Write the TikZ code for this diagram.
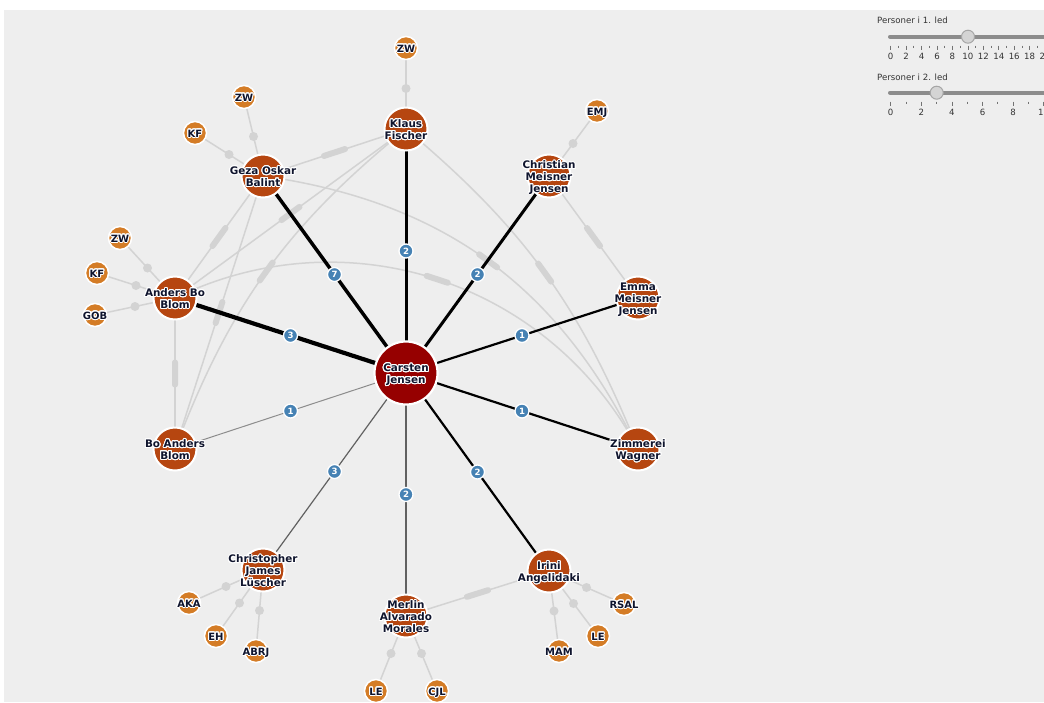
\documentclass[tikz,border=0pt]{standalone}
\usepackage{fontspec}
\setmainfont{DejaVu Sans}
\usepackage{contour}
\contourlength{1pt}
\contournumber{20}

\definecolor{bggrey}{RGB}{238,238,238}
\definecolor{linkgrey}{RGB}{211,211,211}
\definecolor{centre}{RGB}{150,0,0}
\definecolor{rust}{RGB}{182,70,16}
\definecolor{amber}{RGB}{212,124,38}
\definecolor{badge}{RGB}{70,130,180}
\definecolor{ink}{RGB}{15,20,45}

\pgfdeclarelayer{links}
\pgfsetlayers{links,main}

\newcommand{\halo}[1]{\contour{white}{\begin{tabular}{@{}c@{}}#1\end{tabular}}}

\begin{document}
\begin{tikzpicture}[x=1pt, y=-1pt,
	hub/.style={circle, fill=centre, draw=white, line width=2.2pt, minimum size=63pt, inner sep=0pt},
	pers/.style={circle, fill=rust, draw=white, line width=2pt, minimum size=43pt, inner sep=0pt},
	ext/.style={circle, fill=amber, draw=white, line width=1.5pt, minimum size=23pt, inner sep=0pt},
	nm/.style={font=\fontsize{10.4}{11.6}\selectfont\bfseries, text=ink, inner sep=0pt, yshift=-2.6pt},
	tag/.style={font=\fontsize{10}{11}\selectfont\bfseries, text=ink, inner sep=0pt, yshift=-2.4pt},
	num/.style={circle, fill=badge, draw=white, line width=1.3pt, minimum size=14pt, inner sep=0pt, text=white, font=\fontsize{8.6}{9}\selectfont\bfseries},
	link/.style={draw=linkgrey, line width=1.5pt},
	tie/.style={draw=black, line width=#1},
	bar/.style={sloped, fill=linkgrey, rounded corners=2.8pt, minimum width=28pt, minimum height=6pt, inner sep=0pt},
	knot/.style={circle, fill=linkgrey, minimum size=9pt, inner sep=0pt},
	slabel/.style={font=\fontsize{8.6}{9.5}\selectfont, text=black!80, inner sep=0pt},
	track/.style={draw=black!45, line width=4pt, line cap=round},
	tickmark/.style={draw=black!55, line width=0.8pt},
	thumb/.style={circle, fill=black!17, draw=black!35, line width=1pt, minimum size=13pt, inner sep=0pt}]
\useasboundingbox (0,0) rectangle (1044,702);

% people in 1st and 2nd degree
\node[hub, label={[nm]center:\halo{Carsten\\Jensen}}] (cj) at (406,373) {};
\node[pers, label={[nm]center:\halo{Klaus\\Fischer}}] (kf) at (406,129) {};
\node[pers, label={[nm]center:\halo{Geza Oskar\\Balint}}] (gb) at (263,176) {};
\node[pers, label={[nm]center:\halo{Christian\\Meisner\\Jensen}}] (cm) at (549,176) {};
\node[pers, label={[nm]center:\halo{Anders Bo\\Blom}}] (ab) at (175,298) {};
\node[pers, label={[nm]center:\halo{Emma\\Meisner\\Jensen}}] (em) at (638,298) {};
\node[pers, label={[nm]center:\halo{Bo Anders\\Blom}}] (ba) at (175,449) {};
\node[pers, label={[nm]center:\halo{Zimmerei\\Wagner}}] (zw) at (638,449) {};
\node[pers, label={[nm]center:\halo{Christopher\\James\\Lüscher}}] (cl) at (263,570) {};
\node[pers, label={[nm]center:\halo{Merlin\\Alvarado\\Morales}}] (ma) at (406,616) {};
\node[pers, label={[nm]center:\halo{Irini\\Angelidaki}}] (ia) at (549,571) {};

\node[ext, label={[tag]center:\halo{ZW}}] (kf-zw) at (406,48) {};
\node[ext, label={[tag]center:\halo{ZW}}] (gb-zw) at (244,97) {};
\node[ext, label={[tag]center:\halo{KF}}] (gb-kf) at (195,133) {};
\node[ext, label={[tag]center:\halo{EMJ}}] (cm-emj) at (597,111) {};
\node[ext, label={[tag]center:\halo{ZW}}] (ab-zw) at (120,238) {};
\node[ext, label={[tag]center:\halo{KF}}] (ab-kf) at (97,273) {};
\node[ext, label={[tag]center:\halo{GOB}}] (ab-gob) at (95,315) {};
\node[ext, label={[tag]center:\halo{AKA}}] (cl-aka) at (189,603) {};
\node[ext, label={[tag]center:\halo{EH}}] (cl-eh) at (216,636) {};
\node[ext, label={[tag]center:\halo{ABRJ}}] (cl-abrj) at (256,651) {};
\node[ext, label={[tag]center:\halo{LE}}] (ma-le) at (376,691) {};
\node[ext, label={[tag]center:\halo{CJL}}] (ma-cjl) at (437,691) {};
\node[ext, label={[tag]center:\halo{RSAL}}] (ia-rsal) at (624,604) {};
\node[ext, label={[tag]center:\halo{LE}}] (ia-le) at (598,636) {};
\node[ext, label={[tag]center:\halo{MAM}}] (ia-mam) at (559,651) {};

\begin{pgfonlayer}{links}
	\fill[white] (0,0) rectangle (1044,702);
	\fill[bggrey] (4,10) rectangle (1044,702);

	% 2nd degree
	\path[link] (kf.center) edge node[knot] {} (kf-zw.center);
	\path[link] (gb.center) edge node[knot] {} (gb-zw.center);
	\path[link] (gb.center) edge node[knot] {} (gb-kf.center);
	\path[link] (cm.center) edge node[knot] {} (cm-emj.center);
	\path[link] (ab.center) edge node[knot] {} (ab-zw.center);
	\path[link] (ab.center) edge node[knot] {} (ab-kf.center);
	\path[link] (ab.center) edge node[knot] {} (ab-gob.center);
	\path[link] (cl.center) edge node[knot] {} (cl-aka.center);
	\path[link] (cl.center) edge node[knot] {} (cl-eh.center);
	\path[link] (cl.center) edge node[knot] {} (cl-abrj.center);
	\path[link] (ma.center) edge node[knot] {} (ma-le.center);
	\path[link] (ma.center) edge node[knot] {} (ma-cjl.center);
	\path[link] (ia.center) edge node[knot] {} (ia-rsal.center);
	\path[link] (ia.center) edge node[knot] {} (ia-le.center);
	\path[link] (ia.center) edge node[knot] {} (ia-mam.center);

	% among 1st degree
	\path[link] (kf.center) edge node[bar] {} (gb.center);
	\path[link] (kf.center) edge node[bar] {} (ab.center);
	\path[link] (kf.center) edge[bend right=15] node[bar] {} (ba.center);
	\path[link] (kf.center) edge[bend left=14] node[bar] {} (zw.center);
	\path[link] (gb.center) edge node[bar] {} (ab.center);
	\path[link] (gb.center) edge node[bar] {} (ba.center);
	\path[link] (gb.center) edge[bend left=28] node[bar] {} (zw.center);
	\path[link] (ab.center) edge node[bar] {} (ba.center);
	\path[link] (ab.center) edge[bend left=44] node[bar] {} (zw.center);
	\path[link] (cm.center) edge node[bar] {} (em.center);
	\path[link] (ma.center) edge node[bar] {} (ia.center);

	% 1st degree
	\path[tie=3pt] (cj.center) edge node[num] {2} (kf.center);
	\path[tie=3.5pt] (cj.center) edge node[num] {7} (gb.center);
	\path[tie=3pt] (cj.center) edge node[num] {2} (cm.center);
	\path[tie=4.2pt] (cj.center) edge node[num] {3} (ab.center);
	\path[tie=2.2pt] (cj.center) edge node[num] {1} (em.center);
	\path[tie=1pt, draw=black!45] (cj.center) edge node[num] {1} (ba.center);
	\path[tie=2.2pt] (cj.center) edge node[num] {1} (zw.center);
	\path[tie=1.2pt, draw=black!62] (cj.center) edge node[num] {3} (cl.center);
	\path[tie=1.8pt, draw=black!62] (cj.center) edge node[num] {2} (ma.center);
	\path[tie=2.2pt] (cj.center) edge node[num] {2} (ia.center);
\end{pgfonlayer}

% sliders
\node[slabel, anchor=base west] (p1) at (877,23.3) {Personer i 1. led};
\draw[track] (890,36.7) -- (1050,36.7);
\foreach \i in {0,2,...,20} {
	\draw[tickmark] (890.7+7.72*\i,45.5) -- ++(0,4.5);
	\node[slabel] (p1-\i) at (890.7+7.72*\i,56.5) {\i};
}
\foreach \i in {1,3,...,19}
	\draw[tickmark] (890.7+7.72*\i,45.5) -- ++(0,2);
\node[thumb] (k1) at (968,36.7) {};

\node[slabel, anchor=base west] (p2) at (877,80.5) {Personer i 2. led};
\draw[track] (890,92.7) -- (1050,92.7);
\foreach \i in {0,2,...,10} {
	\draw[tickmark] (890.7+15.3*\i,101.5) -- ++(0,4.5);
	\node[slabel] (p2-\i) at (890.7+15.3*\i,112.5) {\i};
}
\foreach \i in {1,3,...,9}
	\draw[tickmark] (890.7+15.3*\i,101.5) -- ++(0,2);
\node[thumb] (k2) at (936.7,92.7) {};
\end{tikzpicture}
\end{document}
